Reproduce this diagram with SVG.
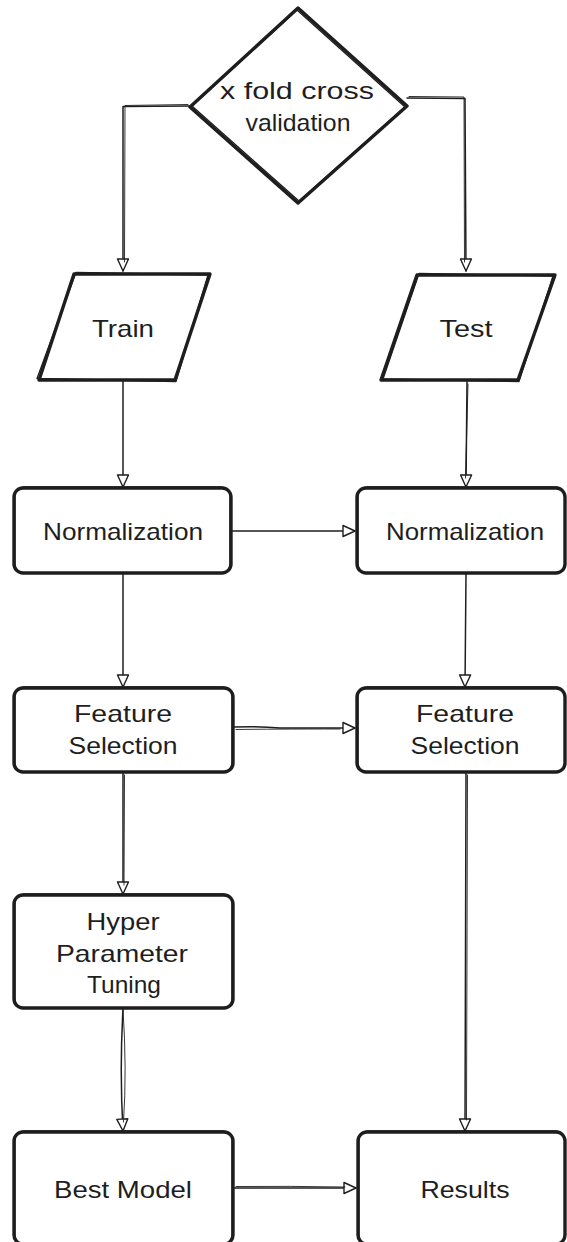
<svg xmlns="http://www.w3.org/2000/svg" width="567" height="1242" viewBox="0 0 567 1242">
<defs>
<style>
.sh{fill:none;stroke:#1e1e1e;stroke-width:3.4;stroke-linejoin:round;stroke-linecap:round}
.sh2{fill:none;stroke:#1e1e1e;stroke-width:1.3;stroke-linejoin:round;stroke-linecap:round}
.cn{fill:none;stroke:#1e1e1e;stroke-width:1.5;stroke-linecap:round;stroke-linejoin:round}
.cn2{fill:none;stroke:#1e1e1e;stroke-width:0.9;stroke-linecap:round}
.t{font-family:"Liberation Sans",Arial,sans-serif;font-size:24px;fill:#1e1e1e;text-anchor:middle}
</style>
<marker id="ah" markerUnits="userSpaceOnUse" markerWidth="14" markerHeight="14" refX="12" refY="6" orient="auto" overflow="visible">
<path d="M0,0.5 L12,6 L0,11.5 Z" fill="#ffffff" stroke="#1e1e1e" stroke-width="1.4" stroke-linejoin="round"/>
</marker>
</defs>
<rect width="567" height="1242" fill="#ffffff"/>

<g id="connectors">
<path class="cn" d="M190,106 L123,106.5 L123,271" marker-end="url(#ah)"/>
<path class="cn2" d="M188,104.5 L125,105.5 L124.5,262"/>
<path class="cn" d="M407,98 L465,98.5 L466,271" marker-end="url(#ah)"/>
<path class="cn2" d="M409,96.5 L464,97 L464.5,262"/>
<path class="cn" d="M123,381 L123,487" marker-end="url(#ah)"/>
<path class="cn" d="M467,381 L466,487" marker-end="url(#ah)"/>
<path class="cn2" d="M468,384 L465.5,478"/>
<path class="cn" d="M232,531 L355,531" marker-end="url(#ah)"/>
<path class="cn" d="M123,574 L123,687" marker-end="url(#ah)"/>
<path class="cn" d="M466,574 L465,687" marker-end="url(#ah)"/>
<path class="cn" d="M234,727 Q260,726 280,728 L355,728" marker-end="url(#ah)"/>
<path class="cn2" d="M236,729.5 Q270,729 340,729"/>
<path class="cn" d="M123,773 L123,894" marker-end="url(#ah)"/>
<path class="cn2" d="M124.5,775 L124,885"/>
<path class="cn" d="M123,1009 Q119.5,1070 123,1131" marker-end="url(#ah)"/>
<path class="cn2" d="M123,1009 Q127,1070 123.5,1122"/>
<path class="cn" d="M466,773 L465,1131" marker-end="url(#ah)"/>
<path class="cn2" d="M467.5,775 L466.5,1120"/>
<path class="cn" d="M234,1188 L356,1188" marker-end="url(#ah)"/>
<path class="cn2" d="M236,1186.5 Q290,1186 345,1187"/>
</g>

<g id="node-cv">
<path class="sh" d="M298,8 L407,106 L298,203 L190,107 Z" stroke-width="4"/>
<path class="sh2" d="M297,10 L405,107 L299,201 L192,106 Z"/>
<text class="t" x="297" y="99" textLength="154" lengthAdjust="spacingAndGlyphs">x fold cross</text>
<text class="t" x="298" y="131" textLength="105" lengthAdjust="spacingAndGlyphs">validation</text>
</g>

<g id="node-train">
<path class="sh" d="M74,274 L210,274 L175,380 L39,380 Z"/>
<path class="sh2" d="M76,272.5 L208,275 L176,381.5 L37,378.5 Z"/>
<text class="t" x="123" y="337" textLength="62" lengthAdjust="spacingAndGlyphs">Train</text>
</g>

<g id="node-test">
<path class="sh" d="M417,275 L555,275 L518,380 L381,380 Z"/>
<path class="sh2" d="M419,273.5 L553,276 L519,381.5 L383,379 Z"/>
<text class="t" x="466" y="337" textLength="53" lengthAdjust="spacingAndGlyphs">Test</text>
</g>

<g id="node-norm-train">
<rect class="sh" x="14" y="488" width="217" height="85" rx="9"/>
<rect class="sh2" x="15" y="487" width="215" height="86" rx="9"/>
<text class="t" x="123" y="540" textLength="160" lengthAdjust="spacingAndGlyphs">Normalization</text>
</g>

<g id="node-norm-test">
<rect class="sh" x="357" y="488" width="208" height="85" rx="9"/>
<rect class="sh2" x="358" y="487" width="207" height="86" rx="9"/>
<text class="t" x="465" y="540" textLength="158" lengthAdjust="spacingAndGlyphs">Normalization</text>
</g>

<g id="node-fs-train">
<rect class="sh" x="14" y="688" width="219" height="84" rx="9"/>
<rect class="sh2" x="15" y="687" width="217" height="85" rx="9"/>
<text class="t" x="123" y="722" textLength="98" lengthAdjust="spacingAndGlyphs">Feature</text>
<text class="t" x="123" y="754" textLength="109" lengthAdjust="spacingAndGlyphs">Selection</text>
</g>

<g id="node-fs-test">
<rect class="sh" x="357" y="688" width="208" height="84" rx="9"/>
<rect class="sh2" x="358" y="687" width="207" height="85" rx="9"/>
<text class="t" x="465" y="722" textLength="98" lengthAdjust="spacingAndGlyphs">Feature</text>
<text class="t" x="465" y="754" textLength="109" lengthAdjust="spacingAndGlyphs">Selection</text>
</g>

<g id="node-hpt">
<rect class="sh" x="14" y="895" width="219" height="113" rx="9"/>
<rect class="sh2" x="15" y="894" width="217" height="114" rx="9"/>
<text class="t" x="123" y="930" textLength="73" lengthAdjust="spacingAndGlyphs">Hyper</text>
<text class="t" x="122" y="962" textLength="132" lengthAdjust="spacingAndGlyphs">Parameter</text>
<text class="t" x="124" y="993" textLength="74" lengthAdjust="spacingAndGlyphs">Tuning</text>
</g>

<g id="node-best">
<rect class="sh" x="14" y="1132" width="219" height="112" rx="9"/>
<rect class="sh2" x="15" y="1131" width="217" height="113" rx="9"/>
<text class="t" x="123" y="1198" textLength="138" lengthAdjust="spacingAndGlyphs">Best Model</text>
</g>

<g id="node-results">
<rect class="sh" x="358" y="1132" width="207" height="112" rx="9"/>
<rect class="sh2" x="359" y="1131" width="206" height="113" rx="9"/>
<text class="t" x="465" y="1198" textLength="89" lengthAdjust="spacingAndGlyphs">Results</text>
</g>
</svg>
